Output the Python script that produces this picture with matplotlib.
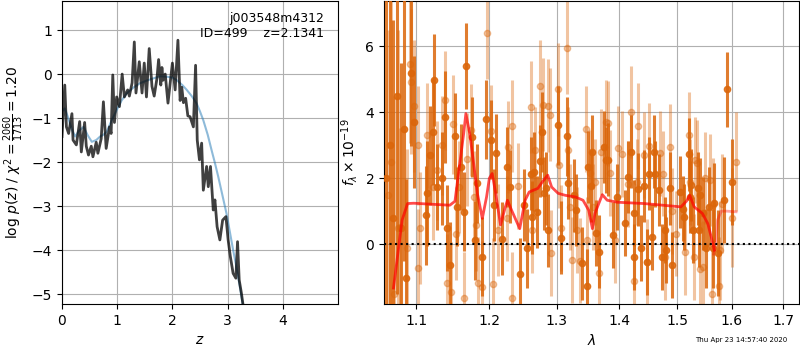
import matplotlib
matplotlib.use('Agg')
import matplotlib.pyplot as plt
from matplotlib.ticker import NullLocator
import numpy as np

# p(z) curve (left panel)
pz_z = [0.00, 0.05, 0.08, 0.12, 0.18, 0.20, 0.26, 0.32, 0.35, 0.41, 0.44, 0.48,
        0.53, 0.56, 0.62, 0.65, 0.71, 0.75, 0.80, 0.86, 0.89, 0.92, 0.95, 0.99,
        1.04, 1.09, 1.13, 1.19, 1.22, 1.27, 1.31, 1.34, 1.40, 1.45, 1.49, 1.53,
        1.58, 1.63, 1.67, 1.72, 1.75, 1.79, 1.81, 1.83, 1.87, 1.92, 1.96, 2.00,
        2.05, 2.10, 2.14, 2.17, 2.20, 2.24, 2.28, 2.32, 2.38, 2.42, 2.45, 2.49,
        2.53, 2.56, 2.62, 2.65, 2.69, 2.74, 2.77, 2.81, 2.86, 2.91, 2.97, 3.01,
        3.05, 3.10, 3.15, 3.18, 3.21, 3.25, 3.28, 3.35, 3.60, 4.90]
pz_logp = [-1.42, -0.25, -1.20, -1.35, -0.90, -1.50, -1.61, -1.08, -1.77, -1.10, -1.64, -1.84,
           -1.64, -1.88, -1.55, -1.80, -1.47, -0.63, -1.69, -1.20, -1.35, -0.02, -1.10, -0.52,
           -0.74, 0.00, -0.52, -0.36, -0.50, -0.20, 0.73, -0.43, 0.28, -0.43, 0.25, -0.52,
           0.58, -0.28, -0.50, -0.10, 0.33, -0.25, 0.15, -0.14, 0.00, -0.66, -0.20, 0.25,
           -0.36, 0.77, -0.60, -0.30, -0.65, -0.55, -0.95, -0.97, -1.20, 0.20, -1.50, -1.95,
           -1.57, -2.64, -2.10, -2.56, -2.10, -3.09, -2.86, -3.47, -3.77, -3.32, -3.24, -3.77,
           -4.15, -4.53, -4.64, -3.81, -4.68, -4.98, -5.25, -5.80, -7.50, -16.0]

# smooth prior curve
prior_z = [0.00, 0.05, 0.10, 0.18, 0.24, 0.30, 0.39, 0.47, 0.54, 0.62, 0.69, 0.75,
           0.81, 0.90, 0.99, 1.08, 1.17, 1.30, 1.41, 1.53, 1.65, 1.78, 1.90, 2.00,
           2.08, 2.18, 2.26, 2.35, 2.44, 2.50, 2.56, 2.64, 2.71, 2.77, 2.83, 2.90,
           2.98, 3.04, 3.10, 3.15, 3.19, 3.27, 3.40, 4.90]
prior_logp = [-0.85, -0.78, -0.95, -1.27, -1.42, -1.30, -1.20, -1.40, -1.54, -1.50, -1.42, -1.38,
              -1.31, -1.05, -0.82, -0.60, -0.44, -0.30, -0.21, -0.15, -0.10, -0.05, -0.06, -0.08,
              -0.14, -0.25, -0.36, -0.50, -0.67, -0.85, -1.05, -1.38, -1.73, -2.02, -2.33, -2.72,
              -3.17, -3.58, -4.00, -4.32, -4.60, -5.20, -6.20, -20.0]

# spectrum, first beam (dark)
wave_a = [1.062, 1.066, 1.070, 1.075, 1.080, 1.084, 1.087, 1.093, 1.097, 1.113, 1.115, 1.119,
          1.123, 1.124, 1.128, 1.134, 1.138, 1.141, 1.145, 1.152, 1.155, 1.160, 1.165, 1.167,
          1.175, 1.180, 1.183, 1.190, 1.195, 1.203, 1.206, 1.209, 1.218, 1.226, 1.230, 1.245,
          1.250, 1.255, 1.260, 1.262, 1.265, 1.269, 1.274, 1.278, 1.281, 1.283, 1.287, 1.302,
          1.306, 1.315, 1.318, 1.327, 1.330, 1.339, 1.348, 1.349, 1.353, 1.356, 1.362, 1.366,
          1.374, 1.378, 1.381, 1.390, 1.396, 1.409, 1.414, 1.419, 1.424, 1.425, 1.432, 1.437,
          1.442, 1.446, 1.450, 1.455, 1.458, 1.461, 1.467, 1.473, 1.478, 1.480, 1.486, 1.490,
          1.505, 1.510, 1.512, 1.520, 1.523, 1.525, 1.527, 1.537, 1.538, 1.540, 1.547, 1.552,
          1.557, 1.564, 1.567, 1.573, 1.586, 1.590, 1.600]
flux_a = [2.00, 3.00, 0.80, 4.50, 0.50, 3.50, -1.03, 5.18, 3.70, 0.88, 1.54, 2.70,
          3.40, 4.97, 1.74, 1.99, 3.86, 0.48, -0.64, 3.27, 1.13, 2.34, 0.98, 5.39,
          3.25, 0.12, 1.84, -0.38, 3.79, 3.17, 1.18, 2.75, 0.17, 2.34, 1.74, -0.92,
          1.18, -0.13, 2.14, 0.81, 2.19, 0.98, 2.52, 3.40, 1.54, 1.69, 0.42, 3.60,
          0.20, 3.27, 1.86, 1.48, 1.03, -0.58, -1.26, 2.34, 1.76, 2.80, 0.34, -0.23,
          2.95, 2.55, 2.56, 0.27, 1.43, 0.63, 2.04, 2.80, -0.38, 0.93, 1.66, -0.13,
          1.76, -0.54, 2.14, 0.22, 2.80, 2.14, 1.64, -0.38, 0.42, -0.18, 1.69, -0.64,
          1.58, 1.08, 0.83, 2.72, 1.43, 1.79, 0.42, 1.69, 0.42, 1.50, 0.93, -0.13,
          1.13, -0.13, 1.25, -0.28, 1.33, 4.69, 1.89]
err_a = [8.0, 7.0, 6.0, 6.0, 5.0, 4.0, 3.0, 2.2, 2.0, 1.5, 1.6, 1.5,
         1.6, 1.4, 1.3, 1.4, 1.4, 1.3, 1.3, 1.3, 1.2, 1.3, 1.2, 1.3,
         1.2, 1.2, 1.2, 1.2, 1.2, 1.2, 1.1, 1.2, 1.1, 1.2, 1.1, 1.1,
         1.1, 1.2, 1.1, 1.1, 1.2, 1.1, 1.1, 1.2, 1.1, 1.1, 1.1, 1.2,
         1.1, 1.2, 1.1, 1.1, 1.1, 1.1, 1.1, 1.1, 1.1, 1.1, 1.0, 1.1,
         1.1, 1.0, 1.1, 1.0, 1.0, 1.0, 1.1, 1.1, 1.0, 1.0, 1.1, 1.0,
         1.1, 1.0, 1.1, 1.0, 1.1, 1.0, 1.1, 1.0, 1.0, 1.0, 1.1, 1.0,
         1.1, 1.0, 1.0, 1.1, 1.1, 1.1, 1.0, 1.1, 1.1, 1.1, 1.1, 1.2,
         1.2, 1.2, 1.2, 1.3, 1.3, 1.15, 1.3]

# spectrum, second beam (light)
wave_b = [1.064, 1.068, 1.072, 1.077, 1.079, 1.088, 1.092, 1.093, 1.097, 1.102, 1.103, 1.105,
          1.115, 1.123, 1.128, 1.134, 1.138, 1.141, 1.147, 1.150, 1.154, 1.158, 1.164, 1.168,
          1.174, 1.179, 1.181, 1.184, 1.190, 1.197, 1.203, 1.205, 1.212, 1.225, 1.227, 1.232,
          1.233, 1.242, 1.260, 1.262, 1.266, 1.274, 1.279, 1.286, 1.290, 1.291, 1.302, 1.303,
          1.306, 1.315, 1.317, 1.320, 1.323, 1.331, 1.336, 1.346, 1.347, 1.352, 1.357, 1.360,
          1.366, 1.370, 1.378, 1.381, 1.385, 1.393, 1.398, 1.405, 1.414, 1.419, 1.424, 1.430,
          1.432, 1.442, 1.446, 1.450, 1.469, 1.474, 1.478, 1.486, 1.490, 1.497, 1.513, 1.521,
          1.523, 1.529, 1.532, 1.535, 1.540, 1.547, 1.550, 1.559, 1.563, 1.565, 1.575, 1.577,
          1.582, 1.600, 1.608]
flux_b = [1.50, 2.50, -1.50, 0.50, 0.52, -0.13, 5.47, 4.92, 4.20, 3.00, -0.73, 0.50,
          3.30, 1.74, 2.24, 3.00, 4.36, -1.19, -1.44, 3.64, 0.32, 1.74, -1.64, 2.57,
          3.47, 1.43, 0.58, -1.19, -1.30, 6.41, 3.42, -1.21, 0.42, 0.78, 2.95, 3.58,
          -1.63, 1.76, 4.16, 0.42, 2.85, 4.80, 4.23, 4.20, 3.93, -0.28, 4.69, 2.41,
          0.49, 5.96, 2.85, 1.13, -0.48, 0.42, -0.50, 3.50, 0.12, 2.16, 1.13, 1.89,
          -0.88, 2.80, 3.69, 3.66, 2.16, 0.12, 2.90, 2.73, 1.82, 4.01, -1.11, 1.89,
          3.58, 2.70, -0.54, 2.97, 2.75, 2.14, -0.38, 2.95, 1.00, 0.32, -0.23, 3.30,
          1.89, -0.38, 2.55, 2.45, -0.74, -0.70, 2.00, 1.94, -1.52, 1.20, -1.27, -0.18,
          1.23, 0.80, 2.50]
err_b = [5.0, 7.0, 6.0, 6.0, 3.0, 3.0, 2.4, 2.2, 2.0, 1.8, 1.8, 1.7,
         1.6, 1.6, 1.5, 1.5, 1.5, 1.5, 1.5, 1.5, 1.4, 1.4, 1.4, 1.4,
         1.4, 1.4, 1.4, 1.4, 1.4, 1.4, 1.4, 1.4, 1.4, 1.3, 1.4, 1.4,
         1.4, 1.3, 1.4, 1.3, 1.3, 1.4, 1.4, 1.4, 1.4, 1.3, 1.4, 1.3,
         1.3, 1.4, 1.3, 1.3, 1.3, 1.3, 1.3, 1.3, 1.3, 1.3, 1.3, 1.3,
         1.3, 1.3, 1.3, 1.3, 1.3, 1.3, 1.3, 1.3, 1.3, 1.4, 1.3, 1.3,
         1.3, 1.3, 1.3, 1.3, 1.3, 1.3, 1.3, 1.3, 1.3, 1.3, 1.3, 1.3,
         1.3, 1.3, 1.3, 1.3, 1.4, 1.4, 1.4, 1.4, 1.4, 1.4, 1.5, 1.5,
         1.5, 1.5, 1.5]

# best-fit model
model_wave = [1.071, 1.082, 1.089, 1.097, 1.120, 1.145, 1.152, 1.158, 1.164, 1.167, 1.172, 1.177,
              1.183, 1.190, 1.196, 1.200, 1.204, 1.209, 1.216, 1.223, 1.226, 1.232, 1.244, 1.252,
              1.258, 1.271, 1.278, 1.286, 1.292, 1.302, 1.313, 1.329, 1.341, 1.350, 1.356, 1.360,
              1.372, 1.380, 1.397, 1.442, 1.506, 1.516, 1.522, 1.530, 1.545, 1.555, 1.562, 1.567]
model_flux = [-1.33, 0.73, 1.23, 1.24, 1.21, 1.18, 1.30, 2.34, 3.36, 3.96, 3.40, 2.59,
              1.54, 0.78, 1.43, 2.00, 2.14, 1.54, 0.58, 1.13, 1.33, 1.03, 0.47, 1.33,
              1.58, 1.69, 1.89, 2.09, 1.73, 1.54, 1.48, 1.43, 1.33, 1.03, 0.47, 0.93,
              1.50, 1.33, 1.27, 1.23, 1.13, 1.30, 1.48, 1.13, 0.93, 0.62, 0.17, -0.18]
model2_wave = [1.566, 1.570, 1.573, 1.580, 1.590, 1.608]
model2_flux = [-0.30, 0.10, 0.73, 1.00, 1.00, 0.98]

orange = (0.86, 0.40, 0.04)

fig = plt.figure(figsize=(8, 3.5), dpi=100)
ax1 = fig.add_axes([0.0775, 0.131, 0.345, 0.866])
ax2 = fig.add_axes([0.48, 0.131, 0.519, 0.866])

# left: redshift pdf
ax1.plot(prior_z, prior_logp, color='tab:blue', alpha=0.5, lw=1.5)
ax1.plot(pz_z, pz_logp, color='k', alpha=0.75, lw=2)
ax1.set_xlim(0, 5.0)
ax1.set_ylim(-5.23, 1.66)
ax1.set_xticks([0, 1, 2, 3, 4])
ax1.set_yticks([-5, -4, -3, -2, -1, 0, 1])
ax1.grid()
ax1.set_xlabel('$z$')
ax1.set_ylabel(r'log $p(z)$ / $\chi^2=\frac{2060}{1713}=1.20$')
ax1.text(0.95, 0.965, 'j003548m4312\nID=499    z=2.1341', ha='right', va='top',
         fontsize=9, transform=ax1.transAxes)

# right: spectrum
ax2.errorbar(wave_b, flux_b, yerr=err_b, fmt='o', color=orange, alpha=0.38,
             ms=4.5, elinewidth=2.2, capsize=0, zorder=2)
ax2.errorbar(wave_a, flux_a, yerr=err_a, fmt='o', color=orange, alpha=0.85,
             ms=4.5, elinewidth=2.2, capsize=0, zorder=3)
ax2.plot(model_wave, model_flux, color='r', alpha=0.7, lw=2, zorder=4)
ax2.plot(model2_wave, model2_flux, color='r', alpha=0.35, lw=2, zorder=4)
ax2.axhline(0, color='k', linestyle=':', lw=1.5, zorder=5)

ax2.set_xscale('log')
ax2.set_xlim(1.059, 1.733)
ax2.set_xticks([1.1, 1.2, 1.3, 1.4, 1.5, 1.6, 1.7])
ax2.set_xticklabels(['1.1', '1.2', '1.3', '1.4', '1.5', '1.6', '1.7'])
ax2.xaxis.set_minor_locator(NullLocator())
ax2.set_ylim(-1.82, 7.37)
ax2.set_yticks([0, 2, 4, 6])
ax2.grid()
ax2.set_xlabel(r'$\lambda$')
ax2.set_ylabel(r'$f_\lambda \times 10^{-19}$')

fig.text(0.984, 0.028, 'Thu Apr 23 14:57:40 2020', fontsize=5, ha='right', va='center')

fig.savefig('out.png', dpi=100)
